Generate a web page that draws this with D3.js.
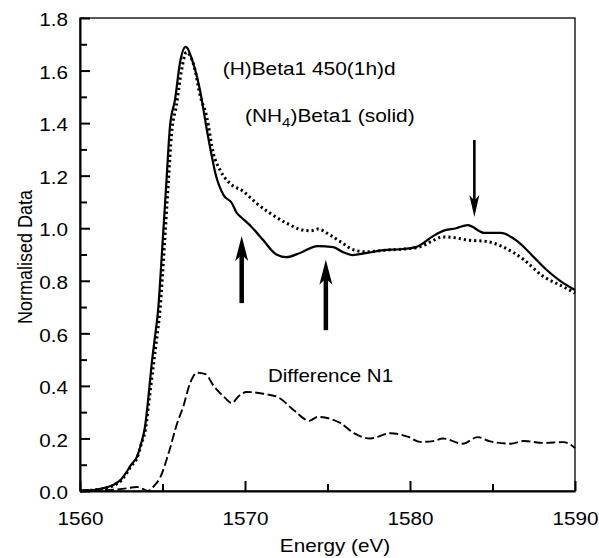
<!DOCTYPE html>
<meta charset="utf-8">
<style>
    body {
        margin: 0;
        background: #fff;
        font-family: "Liberation Sans", Arial, sans-serif;
    }

    .axis path,
    .axis line {
        fill: none;
        stroke: #000;
        stroke-width: 2;
    }

    .axis text {
        font-family: "Liberation Sans", Arial, sans-serif;
        font-size: 18px;
        fill: #000;
    }
</style>

<body>
    <script src="https://d3js.org/d3.v7.min.js"></script>

    <script>
        // ---- data ----
        // (NH4)Beta1, solid line
        var solidE = [1560, 1561, 1561.5, 1562, 1562.5, 1562.8, 1563.1, 1563.45, 1563.7, 1563.94, 1564.15, 1564.35, 1564.55, 1564.75,
            1564.9, 1565.05, 1565.25, 1565.45, 1565.76, 1566.06, 1566.4, 1566.85, 1567.27, 1567.7, 1568.0, 1568.2, 1568.7,
            1569.2, 1569.5, 1569.8, 1570.4, 1571.1, 1571.9, 1572.5, 1573.3, 1574.4, 1575.35, 1575.9, 1576.5, 1577.4, 1578.4,
            1579.4, 1580.4, 1581.4, 1582.0, 1582.8, 1583.5, 1584.5, 1585.5, 1586.5, 1587.5, 1588.3, 1589.1, 1590];
        var solidY = [0.0, 0.005, 0.012, 0.023, 0.045, 0.07, 0.10, 0.13, 0.18, 0.245, 0.36, 0.487, 0.59, 0.70,
            0.84, 0.99, 1.19, 1.386, 1.49, 1.63, 1.69, 1.63, 1.526, 1.37, 1.27, 1.21, 1.126,
            1.096, 1.058, 1.04, 1.005, 0.955, 0.90, 0.89, 0.905, 0.932, 0.928, 0.91, 0.898, 0.906, 0.917,
            0.92, 0.929, 0.97, 0.99, 1.0, 1.012, 0.982, 0.982, 0.951, 0.89, 0.84, 0.80, 0.765];

        // (H)Beta1 450(1h)d, dotted line
        var dottedE = [1560, 1561, 1561.5, 1562, 1562.5, 1562.8, 1563.1, 1563.45, 1563.7, 1563.98, 1564.2, 1564.45, 1564.65, 1564.85,
            1565.0, 1565.15, 1565.35, 1565.55, 1565.85, 1566.15, 1566.45, 1566.9, 1567.3, 1567.68, 1568.08, 1568.5, 1569.1,
            1569.9, 1570.7, 1571.5, 1572.5, 1573.5, 1574.0, 1574.4, 1575.15, 1575.8, 1576.6, 1577.4, 1578.6, 1579.5, 1580.6,
            1581.3, 1582.0, 1582.8, 1583.5, 1584.6, 1585.6, 1586.9, 1588.0, 1589.3, 1590];
        var dottedY = [0.0, 0.005, 0.01, 0.02, 0.04, 0.065, 0.095, 0.125, 0.175, 0.24, 0.35, 0.48, 0.58, 0.69,
            0.82, 0.97, 1.17, 1.36, 1.47, 1.60, 1.67, 1.62, 1.50, 1.424, 1.285, 1.22, 1.17,
            1.14, 1.095, 1.058, 1.02, 0.993, 0.99, 0.997, 0.974, 0.948, 0.917, 0.91, 0.917, 0.92, 0.929,
            0.95, 0.967, 0.963, 0.955, 0.95, 0.93, 0.88, 0.82, 0.777, 0.753];

        // Difference N1, dashed line
        var diffE = [1560, 1561, 1562, 1562.8, 1563.45, 1563.8, 1564.1, 1564.5, 1564.85, 1565.35, 1565.9, 1566.25, 1566.67,
            1567.1, 1567.6, 1568.1, 1568.7, 1569.2, 1569.6, 1570.1, 1571.1, 1572.0, 1573.0, 1573.9, 1574.4, 1575.8,
            1576.6, 1577.6, 1578.8, 1579.9, 1580.6, 1581.4, 1582.0, 1583.2, 1584.1, 1584.8, 1586.1, 1586.9, 1588.1,
            1589.3, 1590];
        var diffY = [0.003, 0.003, 0.005, 0.01, 0.015, 0.008, 0.0, 0.02, 0.05, 0.14, 0.26, 0.32, 0.41,
            0.45, 0.445, 0.40, 0.36, 0.335, 0.36, 0.377, 0.37, 0.357, 0.305, 0.267, 0.282, 0.258,
            0.22, 0.20, 0.22, 0.206, 0.187, 0.19, 0.20, 0.18, 0.205, 0.19, 0.18, 0.19, 0.183,
            0.186, 0.164];

        // arrows: energy, tail value, tip value
        var arrowE = [1569.8, 1574.9, 1583.9];
        var arrowFrom = [0.715, 0.612, 1.336];
        var arrowTo = [0.97, 0.88, 1.043];

        // ticks
        var xMajor = [1560, 1570, 1580, 1590];
        var xMinor = [1565, 1575, 1585];
        var yMajor = [0, 0.2, 0.4, 0.6, 0.8, 1.0, 1.2, 1.4, 1.6, 1.8];
        var yMinor = [0.1, 0.3, 0.5, 0.7, 0.9, 1.1, 1.3, 1.5, 1.7];

        var stretch = 1.15;

        // Set the dimensions of the canvas / graph
        var margin = { top: 18, right: 24, bottom: 67, left: 80 },
            width = 599 - margin.left - margin.right,
            height = 558 - margin.top - margin.bottom;

        var x = d3.scaleLinear().domain([1560, 1590]).range([0, width]);
        var y = d3.scaleLinear().domain([0, 1.8]).range([height, 0]);

        var svg = d3.select("body")
            .append("svg")
            .attr("width", 599)
            .attr("height", 558)
            .append("g")
            .attr("transform", "translate(" + margin.left + "," + margin.top + ")");

        // frame (top and right sides)
        svg.append("rect")
            .attr("x", 0).attr("y", 0)
            .attr("width", width).attr("height", height)
            .attr("fill", "none")
            .attr("stroke", "#000")
            .attr("stroke-width", 1.3);

        function zip(a, b) {
            return a.map(function (v, i) { return [v, b[i]]; });
        }

        var line = d3.line()
            .curve(d3.curveMonotoneX)
            .x(function (d) { return x(d[0]); })
            .y(function (d) { return y(d[1]); });

        // dotted curve
        svg.append("path")
            .datum(zip(dottedE, dottedY))
            .attr("d", line)
            .attr("fill", "none")
            .attr("stroke", "#000")
            .attr("stroke-width", 3)
            .attr("stroke-dasharray", "2.2,3");

        // solid curve
        svg.append("path")
            .datum(zip(solidE, solidY))
            .attr("d", line)
            .attr("fill", "none")
            .attr("stroke", "#000")
            .attr("stroke-width", 2.2)
            .attr("stroke-linejoin", "round");

        // difference curve
        svg.append("path")
            .datum(zip(diffE, diffY))
            .attr("d", line)
            .attr("fill", "none")
            .attr("stroke", "#000")
            .attr("stroke-width", 1.9)
            .attr("stroke-dasharray", "9,3.5");

        // arrows
        arrowE.forEach(function (e, i) {
            var ax = x(e), y0 = y(arrowFrom[i]), y1 = y(arrowTo[i]);
            var dir = y1 < y0 ? 1 : -1; // 1 = pointing up
            var hl = dir == 1 ? 25 : 22, hw = dir == 1 ? 6.5 : 5;
            svg.append("line")
                .attr("x1", ax).attr("x2", ax)
                .attr("y1", y0).attr("y2", y1 + dir * hl * 0.7)
                .attr("stroke", "#000")
                .attr("stroke-width", dir == 1 ? 4.5 : 2.6);
            svg.append("path")
                .attr("d", "M" + ax + "," + y1 +
                    "L" + (ax - hw) + "," + (y1 + dir * hl) +
                    "L" + ax + "," + (y1 + dir * hl * 0.75) +
                    "L" + (ax + hw) + "," + (y1 + dir * hl) + "Z")
                .attr("fill", "#000");
        });

        // axes
        var gx = svg.append("g")
            .attr("class", "axis")
            .attr("transform", "translate(0," + height + ")")
            .call(d3.axisBottom(x).tickValues(xMajor).tickFormat(d3.format("d"))
                .tickSizeInner(-10).tickSizeOuter(0).tickPadding(21));
        gx.append("g")
            .call(d3.axisBottom(x).tickValues(xMinor).tickFormat("")
                .tickSizeInner(-7).tickSizeOuter(0))
            .select(".domain").remove();
        gx.selectAll(".tick text").attr("transform", "scale(" + stretch + ",1)");

        var gy = svg.append("g")
            .attr("class", "axis")
            .call(d3.axisLeft(y).tickValues(yMajor).tickFormat(d3.format(".1f"))
                .tickSizeInner(-10).tickSizeOuter(0).tickPadding(10.5));
        gy.append("g")
            .call(d3.axisLeft(y).tickValues(yMinor).tickFormat("")
                .tickSizeInner(-7).tickSizeOuter(0))
            .select(".domain").remove();
        gy.selectAll(".tick text")
            .attr("transform", "translate(0,2) scale(" + stretch + ",1)");

        // axis titles
        svg.append("text")
            .attr("transform", "translate(" + (335 - margin.left) + "," + (552 - margin.top) + ") scale(" + stretch + ",1)")
            .attr("text-anchor", "middle")
            .attr("font-size", "18px")
            .text("Energy (eV)");

        svg.append("text")
            .attr("transform", "translate(" + (32 - margin.left) + "," + (257 - margin.top) + ") scale(" + stretch + ",1) rotate(-90)")
            .attr("text-anchor", "middle")
            .attr("font-size", "18px")
            .text("Normalised Data");

        // annotations
        svg.append("text")
            .attr("transform", "translate(" + (222.7 - margin.left) + "," + (75 - margin.top) + ") scale(1.16,1)")
            .attr("font-size", "18px")
            .text("(H)Beta1 450(1h)d");

        var t2 = svg.append("text")
            .attr("transform", "translate(" + (245 - margin.left) + "," + (122 - margin.top) + ") scale(1.16,1)")
            .attr("font-size", "18px");
        t2.append("tspan").text("(NH");
        t2.append("tspan").attr("dy", 5).attr("font-size", "13px").text("4");
        t2.append("tspan").attr("dy", -5).text(")Beta1 (solid)");

        svg.append("text")
            .attr("transform", "translate(" + (268 - margin.left) + "," + (382 - margin.top) + ") scale(1.14,1)")
            .attr("font-size", "18px")
            .text("Difference N1");
    </script>
</body>
